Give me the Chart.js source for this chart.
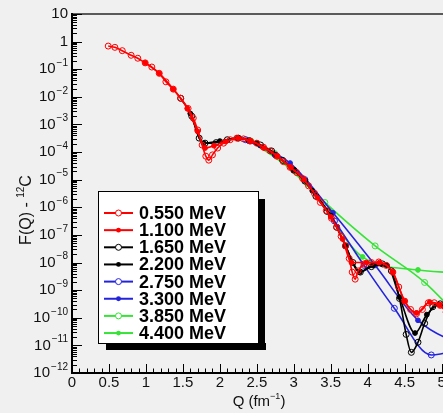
<!DOCTYPE html>
<html>
<head>
<meta charset="utf-8">
<script src="https://cdn.jsdelivr.net/npm/chart.js@4/dist/chart.umd.min.js"></script>
<style>
  html, body { margin: 0; padding: 0; background: #f0f0f0; overflow: hidden; }
  #wrap { width: 443px; height: 413px; overflow: hidden; position: relative; }
  #wrap canvas { position: absolute; left: 0; top: 0; }
</style>
</head>
<body>
<div id="wrap"><canvas id="chart" width="510" height="413" style="width:510px;height:413px"></canvas></div>
<script>
// energies shown in the legend
const energyLabels = ['0.550 MeV', '1.100 MeV', '1.650 MeV', '2.200 MeV', '2.750 MeV', '3.300 MeV', '3.850 MeV', '4.400 MeV'];

// Q (fm^-1) and F(Q) for every energy
const q055 = [0.49, 0.58, 0.68, 0.80, 0.89, 0.99, 1.08, 1.18, 1.27, 1.37, 1.47, 1.57, 1.64, 1.70, 1.76, 1.81, 1.85, 1.90, 1.97, 2.05,
  2.14, 2.23, 2.32, 2.41, 2.50, 2.59, 2.68, 2.77, 2.86, 2.95, 3.04, 3.12, 3.20, 3.28, 3.36, 3.44, 3.51, 3.58, 3.64, 3.70,
  3.75, 3.79, 3.83, 3.87, 3.95, 4.05, 4.15, 4.25, 4.34, 4.42, 4.50, 4.58, 4.66, 4.74, 4.82, 4.90, 4.98, 5.06, 5.14];
const f055 = [6.9e-1, 6.2e-1, 4.7e-1, 3.2e-1, 2.5e-1, 1.7e-1, 1.2e-1, 7.1e-2, 3.5e-2, 1.9e-2, 8.9e-3, 3.8e-3, 1.7e-3, 6.3e-4, 1.8e-4, 7.1e-5, 5.1e-5, 7.9e-5, 1.4e-4, 2.1e-4,
  2.8e-4, 3.2e-4, 3.0e-4, 2.5e-4, 2.1e-4, 1.5e-4, 1.1e-4, 7.1e-5, 4.5e-5, 2.8e-5, 1.8e-5, 1.1e-5, 6.0e-6, 3.2e-6, 1.5e-6, 7.6e-7, 4.0e-7, 1.9e-7, 8.9e-8, 4.0e-8,
  1.4e-8, 4.5e-9, 2.5e-9, 5.0e-9, 8.9e-9, 1.0e-8, 1.05e-8, 7.9e-9, 4.5e-9, 1.3e-9, 4.0e-10, 2.0e-10, 1.4e-10, 2.0e-10, 3.5e-10, 3.5e-10, 2.8e-10, 1.6e-10, 1.0e-10];

const q110 = [0.99, 1.18, 1.37, 1.56, 1.70, 1.80, 1.92, 2.08, 2.25, 2.42, 2.60, 2.78, 2.96, 3.14, 3.32, 3.50, 3.66, 3.78, 3.98, 4.16, 4.34, 4.50, 4.66, 4.84, 4.97, 5.15];
const f110 = [1.7e-1, 7.1e-2, 1.9e-2, 3.8e-3, 5.6e-4, 1.4e-4, 1.7e-4, 2.4e-4, 3.2e-4, 2.5e-4, 1.4e-4, 7.1e-5, 2.8e-5, 1.0e-5, 2.2e-6, 4.5e-7, 7.1e-8, 1.0e-8, 1.0e-8, 1.0e-8, 4.5e-9, 4.0e-10, 1.5e-10, 3.7e-10, 2.9e-10, 1.0e-10];

const q165 = [1.47, 1.62, 1.72, 1.80, 1.95, 2.10, 2.25, 2.40, 2.55, 2.70, 2.85, 3.00, 3.15, 3.30, 3.45, 3.58, 3.70, 3.80, 3.90, 4.05, 4.20, 4.32, 4.43, 4.52, 4.59, 4.68, 4.77, 4.88, 4.98, 5.10];
const f165 = [8.9e-3, 2.0e-3, 3.2e-4, 2.1e-4, 2.2e-4, 2.8e-4, 3.2e-4, 2.6e-4, 1.8e-4, 1.1e-4, 5.0e-5, 2.2e-5, 8.9e-6, 2.5e-6, 7.1e-7, 1.9e-7, 4.0e-8, 1.0e-8, 4.5e-9, 7.1e-9, 8.9e-9, 5.0e-9, 5.0e-10, 2.5e-11, 5.6e-12, 1.3e-11, 6.3e-11, 2.5e-10, 3.2e-10, 1.6e-10];

const q220 = [1.60, 1.78, 2.00, 2.25, 2.50, 2.75, 3.00, 3.25, 3.50, 3.70, 3.89, 4.07, 4.26, 4.43, 4.64, 4.80, 4.97, 5.15];
const f220 = [2.5e-3, 2.1e-4, 2.5e-4, 3.2e-4, 2.1e-4, 7.9e-5, 2.2e-5, 4.0e-6, 5.0e-7, 4.0e-8, 4.5e-9, 7.9e-9, 7.9e-9, 5.6e-10, 2.8e-11, 1.3e-10, 3.0e-10, 1.3e-10];

const q275 = [2.35, 2.75, 3.15, 3.55, 3.95, 4.36, 4.86, 5.30];
const f275 = [2.8e-4, 7.9e-5, 1.0e-5, 3.2e-7, 7.9e-9, 2.2e-10, 4.5e-12, 7.9e-12];

const q330 = [2.38, 2.95, 3.53, 4.10, 4.68, 5.25];
const f330 = [2.6e-4, 4.0e-5, 6.3e-7, 7.9e-9, 8.1e-11, 1.0e-11];

const q385 = [2.74, 3.42, 4.10, 4.77, 5.45];
const f385 = [8.9e-5, 1.5e-6, 4.0e-8, 1.9e-9, 2.5e-11];

const q440 = [2.43, 3.18, 3.93, 4.68, 5.43];
const f440 = [2.5e-4, 7.1e-6, 1.6e-8, 5.4e-9, 4.0e-9];

// axis ticks
const xTickValues = [0, 0.5, 1, 1.5, 2, 2.5, 3, 3.5, 4, 4.5, 5, 5.5];
const xTickLabels = ['0', '0.5', '1', '1.5', '2', '2.5', '3', '3.5', '4', '4.5', '5', '5.5'];
const yTickExponents = [1, 0, -1, -2, -3, -4, -5, -6, -7, -8, -9, -10, -11, -12];

const seriesQ = [q055, q110, q165, q220, q275, q330, q385, q440];
const seriesF = [f055, f110, f165, f220, f275, f330, f385, f440];
const colors = ['#ff0000', '#ff0000', '#000000', '#000000', '#2323dc', '#2323dc', '#36e336', '#36e336'];
const filled = [false, true, false, true, false, true, false, true];

const FONT = '"Liberation Sans", Arial, Helvetica, sans-serif';
const MINUS = '\u2212';

const datasets = energyLabels.map((lab, i) => ({
  label: lab,
  data: seriesQ[i].map((q, j) => ({ x: q, y: seriesF[i][j] })),
  showLine: true,
  borderColor: colors[i],
  borderWidth: 1.6,
  cubicInterpolationMode: 'monotone',
  pointStyle: 'circle',
  pointRadius: filled[i] ? 2.4 : 3,
  pointBorderWidth: 1,
  pointBorderColor: colors[i],
  pointBackgroundColor: filled[i] ? colors[i] : 'rgba(0,0,0,0)'
}));

function drawSup(ctx, base, sup, xRight, yMid, size, supSize) {
  ctx.font = size + 'px ' + FONT;
  const wb = ctx.measureText(base).width;
  ctx.font = supSize + 'px ' + FONT;
  const ws = sup ? ctx.measureText(sup).width : 0;
  ctx.textBaseline = 'middle';
  ctx.textAlign = 'left';
  ctx.font = size + 'px ' + FONT;
  ctx.fillText(base, xRight - wb - ws - (sup ? 1 : 0), yMid);
  if (sup) {
    ctx.font = supSize + 'px ' + FONT;
    ctx.fillText(sup, xRight - ws, yMid - 6);
  }
}

const rootFrame = {
  id: 'rootFrame',
  beforeDraw(chart) {
    const ctx = chart.ctx;
    ctx.save();
    ctx.fillStyle = '#f0f0f0';
    ctx.fillRect(0, 0, chart.width, chart.height);
    ctx.restore();
  },
  afterDatasetsDraw(chart) {
    const ctx = chart.ctx;
    const a = chart.chartArea;
    const xs = chart.scales.x, ys = chart.scales.y;
    ctx.save();

    // frame
    ctx.strokeStyle = '#5a5a5a';
    ctx.lineWidth = 2;
    ctx.beginPath();
    ctx.moveTo(a.left, a.top);
    ctx.lineTo(a.right, a.top);
    ctx.lineTo(a.right, a.bottom);
    ctx.stroke();

    ctx.strokeStyle = '#000';
    ctx.lineWidth = 1;
    // y ticks (log)
    ctx.beginPath();
    for (let e = -12; e <= 1; e++) {
      const yp = ys.getPixelForValue(Math.pow(10, e));
      ctx.moveTo(a.left, Math.round(yp) + 0.5);
      ctx.lineTo(a.left + 10, Math.round(yp) + 0.5);
      if (e < 1) {
        for (let k = 2; k <= 9; k++) {
          const ym = ys.getPixelForValue(k * Math.pow(10, e));
          ctx.moveTo(a.left, Math.round(ym) + 0.5);
          ctx.lineTo(a.left + 5, Math.round(ym) + 0.5);
        }
      }
    }
    // x ticks
    for (let i = 0; i <= 60; i++) {
      const v = i / 10;
      if (v > xs.max) break;
      const xp = Math.round(xs.getPixelForValue(v)) + 0.5;
      const len = (i % 5 === 0) ? 9 : 4.5;
      ctx.moveTo(xp, a.bottom);
      ctx.lineTo(xp, a.bottom - len);
    }
    ctx.stroke();

    // axes
    ctx.lineWidth = 2;
    ctx.beginPath();
    ctx.moveTo(a.left, a.top - 1);
    ctx.lineTo(a.left, a.bottom);
    ctx.lineTo(a.right, a.bottom);
    ctx.stroke();

    // tick labels
    ctx.fillStyle = '#111';
    yTickExponents.forEach((e) => {
      const yp = ys.getPixelForValue(Math.pow(10, e));
      if (e === 1) drawSup(ctx, '10', '', 68, yp, 15, 10);
      else if (e === 0) drawSup(ctx, '1', '', 68, yp, 15, 10);
      else drawSup(ctx, '10', MINUS + (-e), 68, yp, 15, 10);
    });
    ctx.font = '15px ' + FONT;
    ctx.textAlign = 'center';
    ctx.textBaseline = 'middle';
    xTickValues.forEach((v, i) => {
      ctx.fillText(xTickLabels[i], xs.getPixelForValue(v), a.bottom + 10);
    });

    // x title: Q (fm^-1)
    ctx.textAlign = 'left';
    ctx.font = '15px ' + FONT;
    const t1 = 'Q (fm', t3 = ')';
    const t2 = MINUS + '1';
    const w1 = ctx.measureText(t1).width, w3 = ctx.measureText(t3).width;
    ctx.font = '9px ' + FONT;
    const w2 = ctx.measureText(t2).width;
    let x0 = 259 - (w1 + w2 + w3) / 2;
    ctx.font = '15px ' + FONT;
    ctx.fillText(t1, x0, 402);
    ctx.font = '9px ' + FONT;
    ctx.fillText(t2, x0 + w1, 397);
    ctx.font = '15px ' + FONT;
    ctx.fillText(t3, x0 + w1 + w2, 402);

    // y title: F(Q) - 12C
    ctx.save();
    ctx.translate(27, 210);
    ctx.rotate(-Math.PI / 2);
    ctx.font = '16px ' + FONT;
    const s1 = 'F(Q) - ', s3 = 'C', s2 = '12';
    const v1 = ctx.measureText(s1).width, v3 = ctx.measureText(s3).width;
    ctx.font = '10px ' + FONT;
    const v2 = ctx.measureText(s2).width;
    let y0 = -(v1 + v2 + v3) / 2;
    ctx.font = '16px ' + FONT;
    ctx.fillText(s1, y0, 0);
    ctx.font = '10px ' + FONT;
    ctx.fillText(s2, y0 + v1, -6);
    ctx.font = '16px ' + FONT;
    ctx.fillText(s3, y0 + v1 + v2, 0);
    ctx.restore();

    // legend with shadow
    const lx = 98, ly = 191, lw = 160, lh = 152;
    ctx.fillStyle = '#000';
    ctx.fillRect(lx + 8, ly + lh, lw, 7);
    ctx.fillRect(lx + lw, ly + 8, 7, lh - 1);
    ctx.fillStyle = '#fff';
    ctx.fillRect(lx, ly, lw, lh);
    ctx.strokeStyle = '#000';
    ctx.lineWidth = 1;
    ctx.strokeRect(lx + 0.5, ly + 0.5, lw, lh);
    energyLabels.forEach((lab, i) => {
      const yy = 213 + i * 17.15;
      ctx.strokeStyle = colors[i];
      ctx.lineWidth = 2;
      ctx.beginPath();
      ctx.moveTo(104, yy);
      ctx.lineTo(133, yy);
      ctx.stroke();
      ctx.beginPath();
      ctx.arc(118.5, yy, filled[i] ? 2.4 : 3, 0, Math.PI * 2);
      if (filled[i]) { ctx.fillStyle = colors[i]; ctx.fill(); }
      else { ctx.fillStyle = '#fff'; ctx.fill(); ctx.lineWidth = 1; ctx.stroke(); }
      ctx.fillStyle = '#000';
      ctx.font = 'bold 18px ' + FONT;
      ctx.textAlign = 'left';
      ctx.textBaseline = 'middle';
      ctx.fillText(lab, 139, yy + 1);
    });
    ctx.restore();
  }
};

new Chart(document.getElementById('chart'), {
  type: 'scatter',
  data: { datasets },
  options: {
    responsive: false,
    animation: false,
    layout: { padding: { left: 72, top: 14, right: 24, bottom: 40 } },
    plugins: { legend: { display: false }, tooltip: { enabled: false } },
    scales: {
      x: { type: 'linear', display: false, min: 0, max: 5.6 },
      y: { type: 'logarithmic', display: false, min: 1e-12, max: 10 }
    }
  },
  plugins: [rootFrame]
});
</script>
</body>
</html>
